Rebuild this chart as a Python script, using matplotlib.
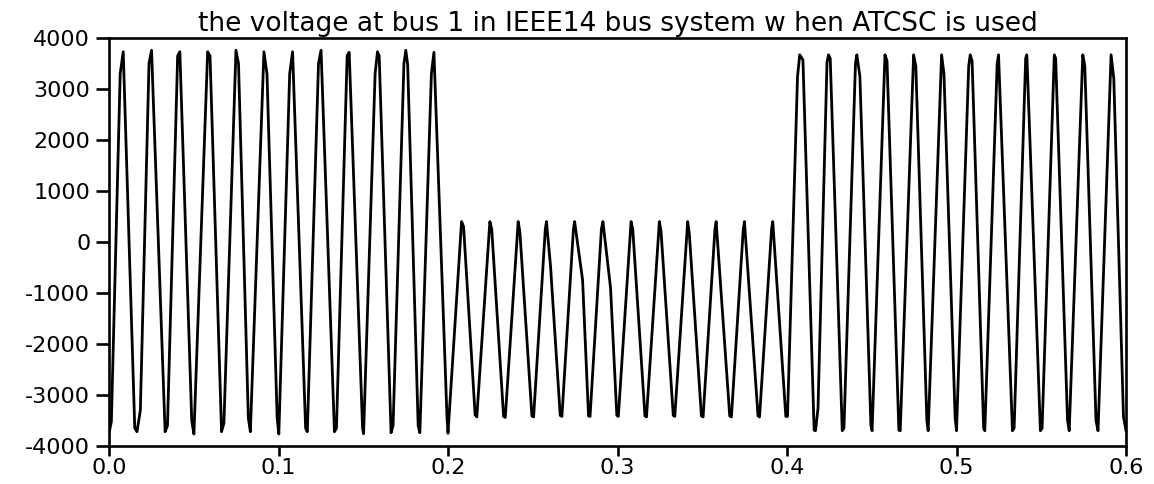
import matplotlib
matplotlib.use('Agg')
import matplotlib.pyplot as plt
import numpy as np

# bus 1 voltage, sampled vertices read off the trace (time in s, volts)
# 0.0 - 0.2 s : normal operation
seg1_t = [0.0, 0.0014,
          0.0066, 0.0084,
          0.0152, 0.0165, 0.0185,
          0.0236, 0.0251,
          0.0331, 0.0345,
          0.0405, 0.0418,
          0.0488, 0.0501,
          0.0582, 0.0596,
          0.0664, 0.0678,
          0.0749, 0.0764,
          0.0822, 0.0834,
          0.0914, 0.0932,
          0.0992, 0.1002,
          0.1066, 0.1083,
          0.1160, 0.1170,
          0.1236, 0.1251,
          0.1330, 0.1342,
          0.1405, 0.1417,
          0.1496, 0.1502,
          0.1570, 0.1584, 0.1594,
          0.1664, 0.1676,
          0.1740, 0.1751, 0.1762,
          0.1824, 0.1834,
          0.1902, 0.1917,
          0.1994, 0.2000]
seg1_v = [-3750, -3520,
          3300, 3730,
          -3650, -3720, -3300,
          3500, 3760,
          -3720, -3600,
          3650, 3730,
          -3500, -3765,
          3730, 3650,
          -3720, -3550,
          3760, 3500,
          -3450, -3720,
          3730, 3300,
          -3450, -3765,
          3300, 3730,
          -3650, -3720,
          3500, 3760,
          -3720, -3650,
          3650, 3720,
          -3650, -3760,
          3300, 3730, 3650,
          -3740, -3600,
          3500, 3760, 3480,
          -3600, -3740,
          3300, 3720,
          -3430, -3750]

# 0.2 - 0.4 s : fault period
seg2_t = [0.2080, 0.2092,
          0.2160, 0.2170,
          0.2247, 0.2258,
          0.2328, 0.2338,
          0.2414, 0.2424,
          0.2495, 0.2505,
          0.2574, 0.2581, 0.2605,
          0.2662, 0.2672,
          0.2740, 0.2747, 0.2794,
          0.2829, 0.2838,
          0.2905, 0.2914, 0.2959,
          0.2996, 0.3005,
          0.3080, 0.3090,
          0.3162, 0.3171,
          0.3247, 0.3257,
          0.3329, 0.3338,
          0.3414, 0.3424,
          0.3495, 0.3505,
          0.3575, 0.3582,
          0.3662, 0.3672,
          0.3742, 0.3749,
          0.3829, 0.3838,
          0.3909, 0.3916,
          0.3993, 0.4003]
seg2_v = [400, 300,
          -3390, -3430,
          400, 250,
          -3420, -3440,
          400, 200,
          -3410, -3430,
          250, 400, -480,
          -3400, -3420,
          250, 400, -745,
          -3410, -3420,
          250, 400, -900,
          -3400, -3420,
          400, 250,
          -3410, -3430,
          400, 200,
          -3400, -3420,
          400, 150,
          -3410, -3430,
          250, 400,
          -3410, -3430,
          250, 400,
          -3410, -3430,
          250, 400,
          -3420, -3420]

# 0.4 - 0.6 s : after clearing, ATCSC in service
seg3_t = [0.4062, 0.4075, 0.4094,
          0.4160, 0.4168, 0.4183,
          0.4236, 0.4245, 0.4255,
          0.4326, 0.4336,
          0.4404, 0.4412, 0.4430,
          0.4495, 0.4502,
          0.4578, 0.4590,
          0.4660, 0.4668,
          0.4747, 0.4760,
          0.4825, 0.4833,
          0.4912, 0.4926,
          0.4992, 0.5000,
          0.5072, 0.5081, 0.5092,
          0.5160, 0.5167,
          0.5240, 0.5248,
          0.5330, 0.5340,
          0.5408, 0.5415,
          0.5495, 0.5505,
          0.5577, 0.5585,
          0.5655, 0.5665,
          0.5745, 0.5757,
          0.5823, 0.5835,
          0.5912, 0.5928,
          0.5985, 0.6000]
seg3_v = [3240, 3670, 3570,
          -3690, -3700, -3260,
          3520, 3670, 3600,
          -3700, -3650,
          3500, 3670, 3250,
          -3600, -3700,
          3670, 3550,
          -3690, -3700,
          3670, 3450,
          -3500, -3700,
          3670, 3300,
          -3450, -3700,
          3450, 3670, 3550,
          -3650, -3700,
          3500, 3670,
          -3700, -3650,
          3600, 3670,
          -3700, -3650,
          3670, 3600,
          -3500, -3700,
          3670, 3450,
          -3500, -3700,
          3670, 3200,
          -3425, -3700]

x_ticks = [0.0, 0.1, 0.2, 0.3, 0.4, 0.5, 0.6]
y_ticks = [-4000, -3000, -2000, -1000, 0, 1000, 2000, 3000, 4000]
title = 'the voltage at bus 1 in IEEE14 bus system w hen ATCSC is used'

t = seg1_t + seg2_t + seg3_t
v = seg1_v + seg2_v + seg3_v

plt.rcParams['font.family'] = ['DejaVu Sans']
plt.rcParams['axes.unicode_minus'] = False

fig = plt.figure(figsize=(11.54, 4.84), dpi=100)
ax = fig.add_axes([109 / 1154, 1 - 446 / 484, (1126 - 109) / 1154, (446 - 38) / 484])

ax.plot(t, v, color='black', linewidth=2.0)

ax.set_xlim(0, 0.6)
ax.set_ylim(-4000, 4000)
ax.set_xticks(x_ticks)
ax.set_xticklabels([f'{x:.1f}' for x in x_ticks])
ax.set_yticks(y_ticks)
ax.set_yticklabels([str(y) for y in y_ticks])

for s in ax.spines.values():
    s.set_linewidth(1.9)
ax.tick_params(axis='both', direction='out', width=1.9, labelsize=16, colors='black')
ax.tick_params(axis='y', length=9.5, pad=4)
ax.tick_params(axis='x', length=7, pad=2)

ax.set_title(title, fontsize=19, pad=5)

fig.savefig('out.png', dpi=100)
